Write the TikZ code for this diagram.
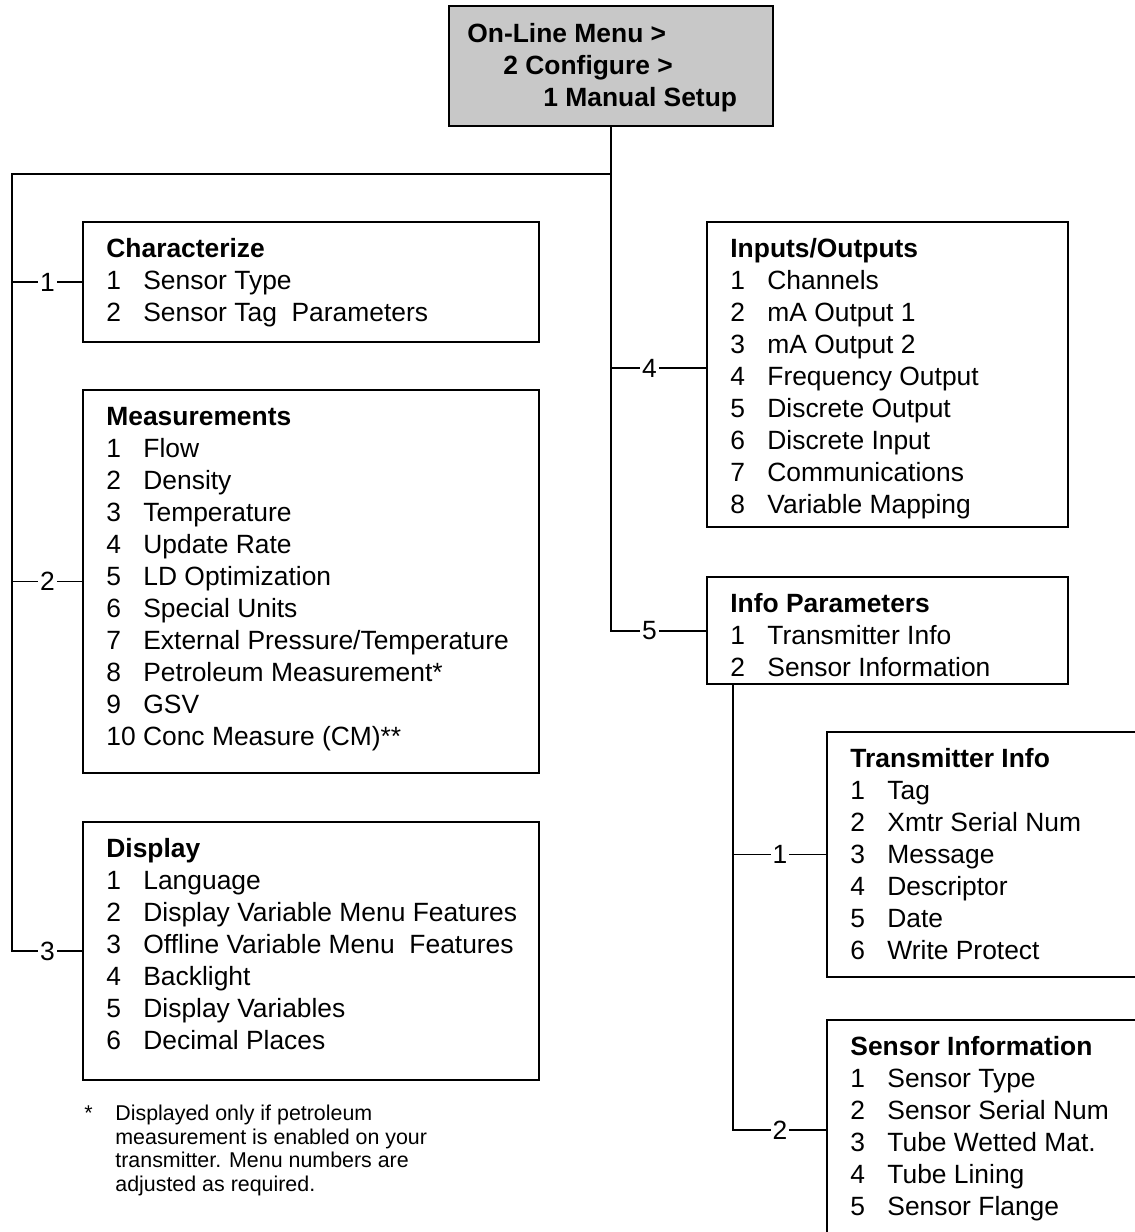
\documentclass[tikz,border=0pt]{standalone}
\usepackage{fontspec}
\setmainfont{Liberation Sans}
\usetikzlibrary{positioning,calc}
\definecolor{menugray}{RGB}{200,200,200}

\newcommand{\menulist}[2]{%
  \begin{tabular}{@{}p{18.5pt}@{}l@{}}
    \multicolumn{2}{@{}l@{}}{\bfseries #1}\\
    #2
  \end{tabular}}

\tikzset{
  menubox/.style={draw, line width=0.75pt, anchor=north west, inner sep=0pt, outer sep=0pt},
  menutext/.style={anchor=north west, inner sep=0pt, font=\fontsize{13.2}{16}\selectfont},
  trunk/.style={line width=1pt},
  branch/.style={line width=0.8pt},
  branchnum/.style={fill=white, inner sep=1pt, font=\fontsize{13.2}{16}\selectfont},
}

\begin{document}
\begin{tikzpicture}[x=0.5pt, y=-0.5pt]
  \useasboundingbox (0,0) rectangle (1135,1232);
  \clip (0,0) rectangle (1135,1232);

  % Top menu path
  \node[menubox, fill=menugray, minimum width=162pt, minimum height=60pt] (top) at (449,6) {};
  \node[menutext, font=\fontsize{13.2}{16}\selectfont\bfseries] (toptext) at ($(top.north west)+(18,13.6)$)
    {\begin{tabular}{@{}l@{}}On-Line Menu >\\\hspace{18pt}2 Configure >\\\hspace{38pt}1 Manual Setup\end{tabular}};

  % Left column
  \node[menubox, minimum width=228pt, minimum height=60pt] (char) at (83,222) {};
  \node[menutext] (chartext) at ($(char.north west)+(23,12.6)$)
    {\menulist{Characterize}{1 & Sensor Type\\ 2 & Sensor Tag\ \ Parameters}};

  \node[menubox, minimum width=228pt, minimum height=191.5pt] (meas) at (83,390) {};
  \node[menutext] (meastext) at ($(meas.north west)+(23,12.6)$)
    {\menulist{Measurements}{1 & Flow\\ 2 & Density\\ 3 & Temperature\\ 4 & Update Rate\\
      5 & LD Optimization\\ 6 & Special Units\\ 7 & External Pressure/Temperature\\
      8 & Petroleum Measurement*\\ 9 & GSV\\ \multicolumn{2}{@{}l@{}}{10 Conc Measure (CM)**}}};

  \node[menubox, minimum width=228pt, minimum height=129pt] (disp) at (83,822) {};
  \node[menutext] (disptext) at ($(disp.north west)+(23,12.6)$)
    {\menulist{Display}{1 & Language\\ 2 & Display Variable Menu Features\\
      3 & Offline Variable Menu\ \ Features\\ 4 & Backlight\\ 5 & Display Variables\\ 6 & Decimal Places}};

  % Right column
  \node[menubox, minimum width=180.5pt, minimum height=152.5pt] (io) at (707,222) {};
  \node[menutext] (iotext) at ($(io.north west)+(23,12.6)$)
    {\menulist{Inputs/Outputs}{1 & Channels\\ 2 & mA Output 1\\ 3 & mA Output 2\\ 4 & Frequency Output\\
      5 & Discrete Output\\ 6 & Discrete Input\\ 7 & Communications\\ 8 & Variable Mapping}};

  \node[menubox, minimum width=180.5pt, minimum height=53.5pt] (info) at (707,577) {};
  \node[menutext] (infotext) at ($(info.north west)+(23,12.6)$)
    {\menulist{Info Parameters}{1 & Transmitter Info\\ 2 & Sensor Information}};

  \node[menubox, minimum width=175pt, minimum height=122.5pt] (trans) at (827,732) {};
  \node[menutext] (transtext) at ($(trans.north west)+(23,12.6)$)
    {\menulist{Transmitter Info}{1 & Tag\\ 2 & Xmtr Serial Num\\ 3 & Message\\ 4 & Descriptor\\
      5 & Date\\ 6 & Write Protect}};

  \node[menubox, minimum width=175pt, minimum height=125pt] (sens) at (827,1020) {};
  \node[menutext] (senstext) at ($(sens.north west)+(23,12.6)$)
    {\menulist{Sensor Information}{1 & Sensor Type\\ 2 & Sensor Serial Num\\ 3 & Tube Wetted Mat.\\
      4 & Tube Lining\\ 5 & Sensor Flange}};

  % Footnote
  \node[anchor=north west, inner sep=0pt, font=\fontsize{10.7}{11.8}\selectfont] (note) at (84,1103.5)
    {\begin{tabular}{@{}p{15.5pt}@{}l@{}}
      * & Displayed only if petroleum\\
        & measurement is enabled on your\\
        & transmitter. Menu numbers are\\
        & adjusted as required.
    \end{tabular}};

  % Connectors
  \coordinate (jtop) at (top.south |- 0,174);
  \coordinate (jleft) at (12,174);
  \coordinate (io4) at ([yshift=-73pt]io.north west);
  \coordinate (sens2) at ([yshift=-55pt]sens.north west);
  \coordinate (jinfo) at ([xshift=13pt]info.south west);

  \draw[trunk] (top.south) -- (jtop) -- (jleft) |- (disp.west) node[branchnum, pos=0.75] {3};
  \draw[branch] (jleft |- char.west) -- node[branchnum] {1} (char.west);
  \draw[branch] (jleft |- meas.west) -- node[branchnum] {2} (meas.west);
  \draw[trunk] (jtop) |- (info.west) node[branchnum, pos=0.7] {5};
  \draw[branch] (jtop |- io4) -- node[branchnum, pos=0.4] {4} (io4);
  \draw[trunk] (jinfo) |- (sens2) node[branchnum, pos=0.75] {2};
  \draw[branch] (jinfo |- trans.west) -- node[branchnum] {1} (trans.west);
\end{tikzpicture}
\end{document}
